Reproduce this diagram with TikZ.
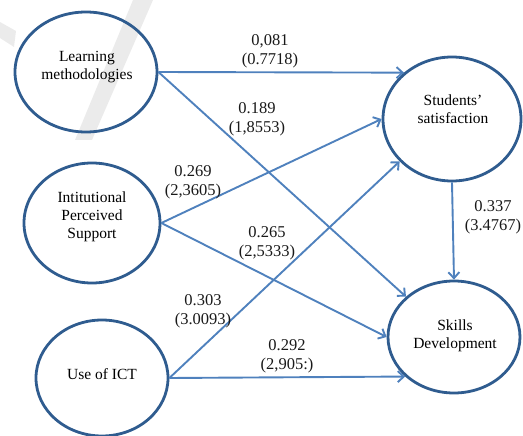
\documentclass[tikz,border=0pt]{standalone}
\usepackage{fontspec}
\setmainfont{Liberation Serif}
\usetikzlibrary{shapes.geometric,arrows.meta}
\definecolor{ovalblue}{HTML}{2F5C8F}
\definecolor{arrowblue}{HTML}{4F81BD}
\begin{document}
\begin{tikzpicture}[x=1pt,y=-1pt,
  oval/.style={ellipse,draw=ovalblue,line width=2.8pt,inner sep=0pt},
  nodetext/.style={align=center,font=\fontsize{15.5}{18}\selectfont,text=black},
  coef/.style={align=center,font=\fontsize{16.5}{19}\selectfont,text=black!90},
  path/.style={draw=arrowblue,line width=1.9pt,-{Straight Barb[length=6pt,width=11pt,line width=1.9pt]}}]
\useasboundingbox (0,0) rectangle (523,436);
% faint watermark stroke
\fill[black!8] (133,0) -- (153,0) -- (92,140) -- (75,140) -- cycle;
\fill[black!8] (0,22) -- (0,38) -- (14,47) -- (16,31) -- cycle;
% constructs
\node[oval,minimum width=142pt,minimum height=120pt] (lm) at (86,72) {};
\node[oval,minimum width=136pt,minimum height=120pt] (ips) at (92,223) {};
\node[oval,minimum width=132pt,minimum height=116pt] (ict) at (102,378) {};
\node[oval,minimum width=138pt,minimum height=124pt] (ss) at (452,119) {};
\node[oval,minimum width=132pt,minimum height=112pt] (sd) at (454,337) {};
\node[nodetext] (lmt) at (87,67) {Learning\\methodologies};
\node[nodetext] (ipst) at (92,217) {Intitutional\\Perceived\\Support};
\node[nodetext] (ictt) at (102,374) {Use of ICT};
\node[nodetext] (sst) at (453,109) {Students’\\satisfaction};
\node[nodetext] (sdt) at (455,336) {Skills\\Development};
% paths
\draw[path] (lm.east) -- (ss.136);
\draw[path] (lm.east) -- (sd.140);
\draw[path] (ips.east) -- (ss.180);
\draw[path] (ips.east) -- (sd.180);
\draw[path] (ict.east) -- (ss.219);
\draw[path] (ict.east) -- (sd.219);
\draw[path] (ss.south) -- (sd.north);
% coefficients
\node[coef] (c1) at (270,51) {0,081\\(0.7718)};
\node[coef] (c2) at (257,119) {0.189\\(1,8553)};
\node[coef] (c3) at (193,182) {0.269\\(2,3605)};
\node[coef] (c4) at (267,243) {0.265\\(2,5333)};
\node[coef] (c5) at (203,311) {0.303\\(3.0093)};
\node[coef] (c6) at (287,356) {0.292\\(2,905:)};
\node[coef] (c7) at (493,217) {0.337\\(3.4767)};
\end{tikzpicture}
\end{document}
